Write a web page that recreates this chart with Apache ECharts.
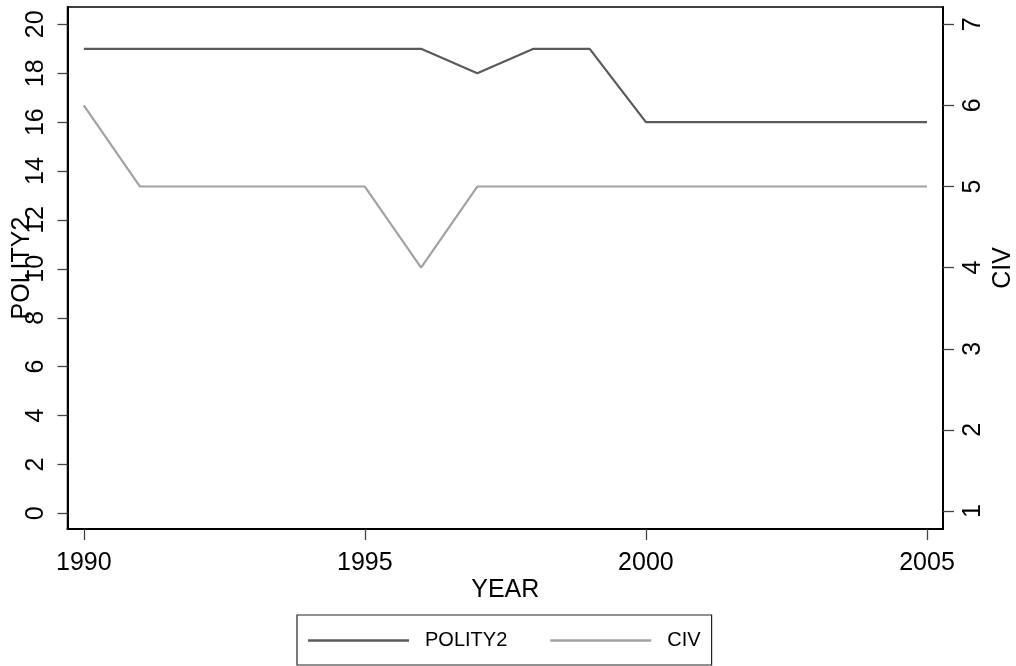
<!DOCTYPE html>
<html>
<head>
<meta charset="utf-8">
<script src="https://cdn.jsdelivr.net/npm/echarts@6/dist/echarts.min.js"></script>
<style>html,body{margin:0;padding:0;background:#fff;}#c{width:1016px;height:666px;}</style>
</head>
<body>
<div id="c"></div>
<script>
const years = [1990,1991,1992,1993,1994,1995,1996,1997,1998,1999,2000,2001,2002,2003,2004,2005];
const polity2 = [19,19,19,19,19,19,19,18,19,19,16,16,16,16,16,16];
const civ = [6,5,5,5,5,5,4,5,5,5,5,5,5,5,5,5];
const xTicks = [1990,1995,2000,2005];
const leftTicks = [0,2,4,6,8,10,12,14,16,18,20];
const rightTicks = [1,2,3,4,5,6,7];

const FONT = '"Liberation Sans", Arial, Helvetica, sans-serif';
const chart = echarts.init(document.getElementById('c'));
chart.setOption({
  animation: false,
  backgroundColor: '#fff',
  textStyle: {fontFamily: FONT, color: '#000'},
  grid: {left: 67.5, right: 73, top: 7, bottom: 137, show: true, borderColor: '#000', borderWidth: 1.5, containLabel: false, outerBoundsMode: 'none'},
  legend: {
    left: 297, top: 615,
    padding: [13, 11, 12, 11],
    borderColor: '#222', borderWidth: 1.2,
    icon: 'rect',
    itemWidth: 101, itemHeight: 2.5, itemGap: 43,
    textStyle: {fontSize: 20, fontFamily: FONT, color: '#000', padding: [0,0,0,11], lineHeight: 25},
    data: ['POLITY2', 'CIV']
  },
  xAxis: {
    type: 'value', min: 1989.71, max: 2005.285,
    name: 'YEAR', nameLocation: 'middle', nameGap: 49, nameMoveOverlap: false,
    nameTextStyle: {fontSize: 25, fontFamily: FONT, color: '#000'},
    axisLine: {show: true, onZero: false, lineStyle: {color: '#000', width: 2}},
    axisTick: {show: true, length: 11, customValues: xTicks, lineStyle: {color: '#444', width: 1.3}},
    axisLabel: {customValues: xTicks, formatter: v => String(v), fontSize: 25, color: '#000', margin: 22, fontFamily: FONT},
    splitLine: {show: false}
  },
  yAxis: [{
    type: 'value', min: -0.64, max: 20.71, position: 'left',
    name: 'POLITY2', nameLocation: 'middle', nameGap: 33, nameRotate: 90, nameMoveOverlap: false,
    nameTextStyle: {fontSize: 25, fontFamily: FONT, color: '#000'},
    axisLine: {show: true, onZero: false, lineStyle: {color: '#000', width: 2}},
    axisTick: {show: true, length: 10, customValues: leftTicks, lineStyle: {color: '#444', width: 1.3}},
    axisLabel: {customValues: leftTicks, rotate: 90, fontSize: 25, color: '#000', margin: 19, fontFamily: FONT},
    splitLine: {show: false}
  }, {
    type: 'value', min: 0.778, max: 7.213, position: 'right',
    name: 'CIV', nameLocation: 'middle', nameGap: 48, nameRotate: 90, nameMoveOverlap: false,
    nameTextStyle: {fontSize: 25, fontFamily: FONT, color: '#000'},
    axisLine: {show: true, onZero: false, lineStyle: {color: '#000', width: 2}},
    axisTick: {show: true, length: 11, customValues: rightTicks, lineStyle: {color: '#444', width: 1.3}},
    axisLabel: {customValues: rightTicks, rotate: 90, fontSize: 25, color: '#000', margin: 18, fontFamily: FONT},
    splitLine: {show: false}
  }],
  series: [{
    name: 'POLITY2', type: 'line', yAxisIndex: 0, symbol: 'none',
    data: years.map((y, i) => [y, polity2[i]]),
    lineStyle: {color: '#5a5a5a', width: 2.2}, itemStyle: {color: '#5a5a5a'}
  }, {
    name: 'CIV', type: 'line', yAxisIndex: 1, symbol: 'none',
    data: years.map((y, i) => [y, civ[i]]),
    lineStyle: {color: '#a2a2a2', width: 2.2}, itemStyle: {color: '#a2a2a2'}
  }]
});
</script>
</body>
</html>
